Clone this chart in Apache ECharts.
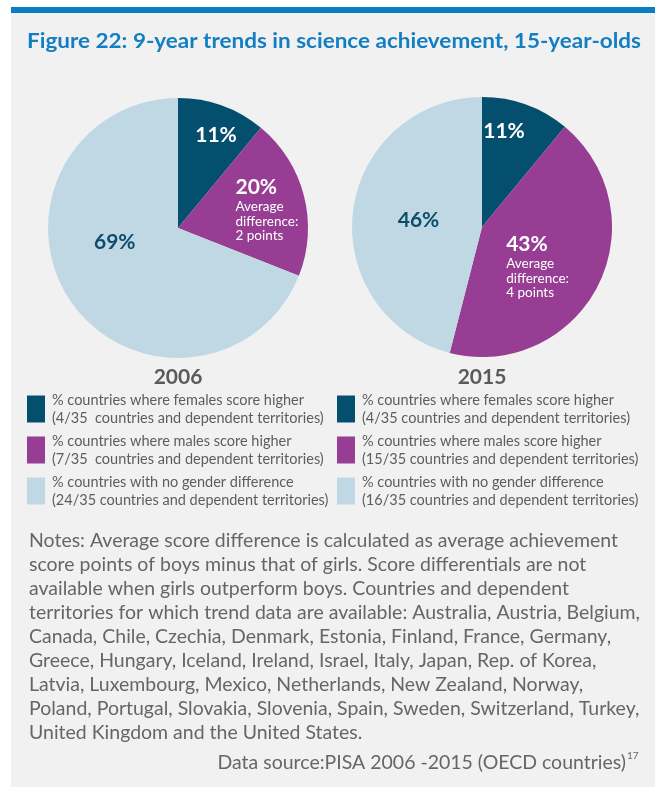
<!DOCTYPE html>
<html>
<head>
<meta charset="utf-8">
<title>Figure 22</title>
<script src="https://cdn.jsdelivr.net/npm/echarts@6/dist/echarts.min.js"></script>
<style>
html,body{margin:0;padding:0;background:#fff;}
#chart{width:655px;height:787px;}
</style>
</head>
<body>
<div id="chart"></div>
<script>
/****
 * data
 */
var years = ['2006', '2015'];
var groups = ['% countries where females score higher', '% countries where males score higher', '% countries with no gender difference'];
var share2006 = [11, 20, 69];
var share2015 = [11, 43, 46];
var count2006 = ['4/35 ', '7/35 ', '24/35'];
var count2015 = ['4/35', '15/35', '16/35'];
var avgDiff = [2, 4]; // points, only for the "males higher" slice
var titleText = 'Figure 22: 9-year trends in science achievement, 15-year-olds';
var noteLines = [
	'Notes: Average score difference is calculated as average achievement',
	'score points of boys minus that of girls. Score differentials are not',
	'available when girls outperform boys. Countries and dependent',
	'territories for which trend data are available: Australia, Austria, Belgium,',
	'Canada, Chile, Czechia, Denmark, Estonia, Finland, France, Germany,',
	'Greece, Hungary, Iceland, Ireland, Israel, Italy, Japan, Rep. of Korea,',
	'Latvia, Luxembourg, Mexico, Netherlands, New Zealand, Norway,',
	'Poland, Portugal, Slovakia, Slovenia, Spain, Sweden, Switzerland, Turkey,',
	'United Kingdom and the United States.'
];
var sourceText = 'Data source:PISA 2006 -2015 (OECD countries)';
var sourceRef = '17';

var colors = ['#044f6d', '#973d93', '#bfd8e3'];
var FONT = 'Lato';
var GREY = '#5d5d5d';

// myriad is narrow, squeeze the text a bit to the same width
var measureCtx = document.createElement('canvas').getContext('2d');
function textWidth(text, font) {
	measureCtx.font = font;
	return measureCtx.measureText(text).width;
}

function legendNames(counts) {
	return groups.map(function(g, i) {
		return g + '\n(' + counts[i] + ' countries and dependent territories)';
	});
}

/****
 * one pie per year
 */
function pieSeries(idx, shares, counts, center, shift) {
	var names = legendNames(counts);
	return {
		type: 'pie',
		name: years[idx],
		center: center,
		radius: 130,
		startAngle: 90,
		clockwise: true,
		silent: true,
		avoidLabelOverlap: false,
		label: {
			show: true,
			position: 'inside',
			textBorderWidth: 0,
			formatter: function(p) {
				if (p.dataIndex === 1) {
					return '{big|' + p.value + '%}\n{txt|Average}\n{txt|difference:}\n{txt|' + avgDiff[idx] + ' points}';
				}
				return (p.dataIndex === 2 ? '{dark|' : '{big|') + p.value + '%}';
			},
			rich: {
				big: {color: '#fff', fontFamily: FONT, fontWeight: 'bold', fontSize: 21, lineHeight: 25, align: 'left'},
				dark: {color: '#0d4d6b', fontFamily: FONT, fontWeight: 'bold', fontSize: 21, lineHeight: 25},
				txt: {color: '#fff', fontFamily: FONT, fontSize: 13.5, lineHeight: 14.5, align: 'left'}
			}
		},
		labelLine: {show: false},
		labelLayout: function(p) {
			return {dx: shift[p.dataIndex][0], dy: shift[p.dataIndex][1]};
		},
		data: shares.map(function(v, i) {
			return {value: v, name: names[i], itemStyle: {color: colors[i]}};
		})
	};
}

function legendFor(left, counts) {
	return {
		orient: 'vertical',
		left: left,
		top: 391,
		padding: 0,
		itemWidth: 18,
		itemHeight: 27,
		itemGap: 5,
		icon: 'rect',
		selectedMode: false,
		data: legendNames(counts),
		textStyle: {fontFamily: FONT, fontSize: 14.5, lineHeight: 18, color: GREY, padding: [0, 0, 0, 2]}
	};
}

var titleFont = 'bold 20px ' + FONT;
var titleScale = 614 / textWidth(titleText, titleFont);
var noteFont = '19px ' + FONT;
var noteScale = 611 / Math.max.apply(null, noteLines.map(function(l) { return textWidth(l, noteFont); }));

var chart = echarts.init(document.getElementById('chart'));
var option = {
	backgroundColor: '#fff',
	animation: false,
	graphic: [
		{type: 'rect', z: 0, shape: {x: 11, y: 13, width: 644, height: 774}, style: {fill: '#f1f1f1'}},
		{type: 'rect', z: 0, shape: {x: 11, y: 7, width: 644, height: 6}, style: {fill: '#0b7ec2'}},
		{type: 'text', z: 5, x: 334, y: 42, scaleX: titleScale,
			style: {text: titleText, font: titleFont, fill: '#137fc2', align: 'center', verticalAlign: 'middle'}},
		{type: 'text', z: 5, x: 178, y: 377,
			style: {text: years[0], font: 'bold 21px ' + FONT, fill: '#5a5a5a', align: 'center', verticalAlign: 'middle'}},
		{type: 'text', z: 5, x: 482, y: 377,
			style: {text: years[1], font: 'bold 21px ' + FONT, fill: '#5a5a5a', align: 'center', verticalAlign: 'middle'}},
		{type: 'text', z: 5, x: 29, y: 529, scaleX: noteScale,
			style: {text: noteLines.join('\n'), font: noteFont, lineHeight: 24, fill: '#666', align: 'left', verticalAlign: 'top'}},
		{type: 'text', z: 5, x: 626, y: 763, scaleX: noteScale,
			style: {text: sourceText, font: noteFont, fill: '#666', align: 'right', verticalAlign: 'middle'}},
		{type: 'text', z: 5, x: 627, y: 756,
			style: {text: sourceRef, font: '10px ' + FONT, fill: '#666', align: 'left', verticalAlign: 'middle'}}
	],
	legend: [legendFor(27, count2006), legendFor(337, count2015)],
	series: [
		pieSeries(0, share2006, count2006, [178, 228], [[15, -29], [23, -2], [-7, -24]]),
		pieSeries(1, share2015, count2015, [482, 227], [[-1, -32], [-5, 8], [4, 2]])
	]
};
chart.setOption(option);
</script>
</body>
</html>
